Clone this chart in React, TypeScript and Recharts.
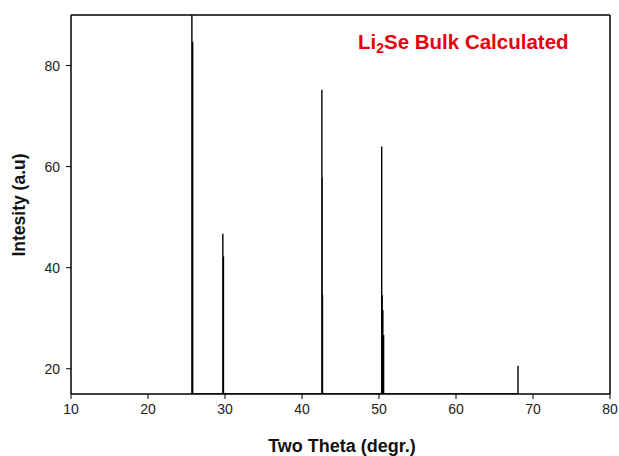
import * as React from "react";
import { LineChart, Line, XAxis, YAxis } from "recharts";

// peak positions (two theta) and calculated intensities
const peakTheta = [25.7, 25.8, 29.72, 29.8, 42.58, 42.62, 42.66, 50.35, 50.42, 50.5, 50.6, 68.05];
const peakIntensity = [100, 84.7, 46.7, 42.2, 75.2, 57.8, 34.6, 64, 34.6, 31.6, 26.7, 20.6];
const baseline = 15;

const xTicks = [10, 20, 30, 40, 50, 60, 70, 80];
const yTicks = [20, 40, 60, 80];

const font = "'Liberation Sans', Arial, sans-serif";

// stick pattern: each peak goes up from the baseline and back down
const stickData = peakTheta.flatMap((t, i) => [
  { theta: t, y: baseline },
  { theta: t, y: peakIntensity[i] },
  { theta: t, y: baseline },
]);

const tickStyle = { fill: "#222", fontSize: 14, fontFamily: font };

export default function App() {
  return (
    <div style={{ position: "absolute", left: 0, top: 0, width: 619, height: 456, background: "white" }}>
      <LineChart width={619} height={456} data={stickData} margin={{ top: 14, right: 8, left: 0, bottom: 0 }}>
        <XAxis
          dataKey="theta"
          type="number"
          domain={[10, 80]}
          ticks={xTicks}
          height={62}
          tickSize={5}
          tickMargin={5}
          tick={tickStyle}
          stroke="#000"
          strokeWidth={1.5}
          tickLine={{ stroke: "#000", strokeWidth: 1 }}
        />
        <XAxis
          xAxisId="top"
          dataKey="theta"
          orientation="top"
          type="number"
          domain={[10, 80]}
          height={1}
          tick={false}
          tickLine={false}
          stroke="#000"
          strokeWidth={1.5}
        />
        <YAxis
          type="number"
          domain={[15, 90]}
          ticks={yTicks}
          allowDataOverflow
          width={71}
          tickSize={5}
          tickMargin={6}
          tick={tickStyle}
          stroke="#000"
          strokeWidth={1.5}
          tickLine={{ stroke: "#000", strokeWidth: 1 }}
        />
        <YAxis
          yAxisId="right"
          orientation="right"
          type="number"
          domain={[15, 90]}
          allowDataOverflow
          width={1}
          tick={false}
          tickLine={false}
          stroke="#000"
          strokeWidth={1.5}
        />
        <Line
          type="linear"
          dataKey="y"
          stroke="#000"
          strokeWidth={1.4}
          dot={false}
          isAnimationActive={false}
        />
        {/* invisible series so the frame axes (top/right) get drawn */}
        <Line
          xAxisId="top"
          yAxisId="right"
          dataKey="y"
          stroke="none"
          dot={false}
          activeDot={false}
          isAnimationActive={false}
        />
      </LineChart>
      <div
        style={{
          position: "absolute",
          left: 358,
          top: 30,
          color: "#e8000b",
          fontFamily: font,
          fontWeight: "bold",
          fontSize: 20.5,
          lineHeight: "24px",
          whiteSpace: "nowrap",
        }}
      >
        Li<sub style={{ fontSize: 14, verticalAlign: -4 }}>2</sub>Se Bulk Calculated
      </div>
      <div
        style={{
          position: "absolute",
          left: 0,
          top: 435,
          width: 684,
          textAlign: "center",
          fontFamily: font,
          fontWeight: "bold",
          fontSize: 18,
          lineHeight: "22px",
          color: "#111",
        }}
      >
        Two Theta (degr.)
      </div>
      <div
        style={{
          position: "absolute",
          left: 19,
          top: 205,
          transform: "translate(-50%, -50%) rotate(-90deg)",
          fontFamily: font,
          fontWeight: "bold",
          fontSize: 17.5,
          lineHeight: "22px",
          color: "#111",
          whiteSpace: "nowrap",
        }}
      >
        Intesity (a.u)
      </div>
    </div>
  );
}
